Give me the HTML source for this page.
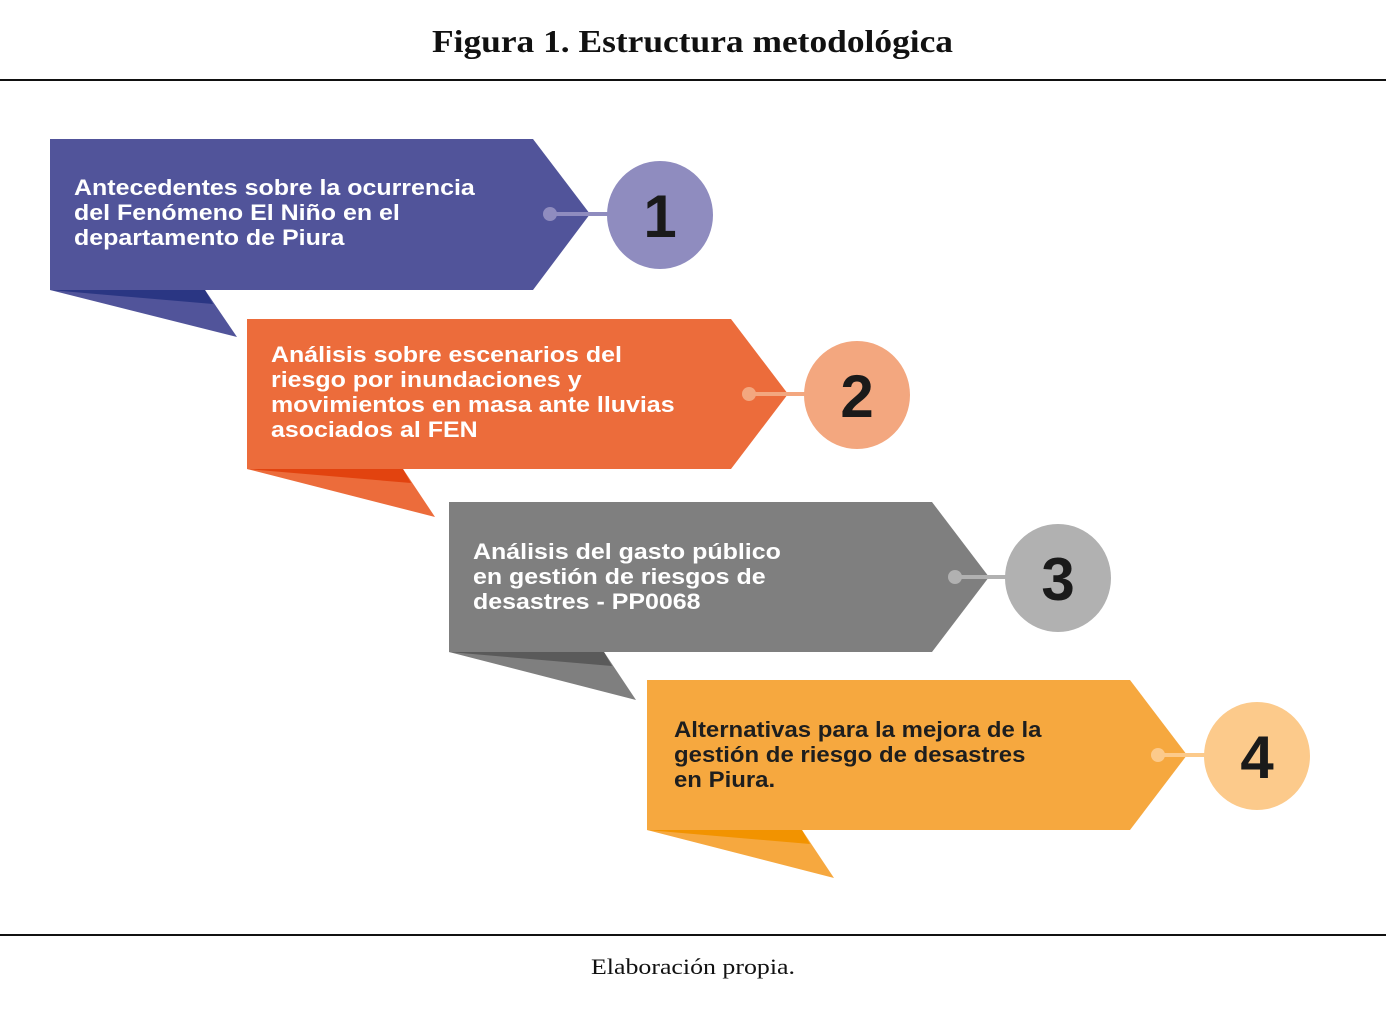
<!DOCTYPE html>
<html><head><meta charset="utf-8"><style>
html,body{margin:0;padding:0;background:#fff;width:1386px;height:1012px;overflow:hidden}
svg{display:block}
</style></head><body>
<svg width="1386" height="1012" viewBox="0 0 1386 1012" xmlns="http://www.w3.org/2000/svg">
<text x="432" y="52" textLength="521" lengthAdjust="spacingAndGlyphs" font-family="Liberation Serif, serif" font-weight="bold" font-size="32" fill="#111">Figura 1. Estructura metodológica</text>
<line x1="0" y1="80" x2="1386" y2="80" stroke="#111" stroke-width="2"/>
<line x1="0" y1="935" x2="1386" y2="935" stroke="#111" stroke-width="2"/>
<text x="591" y="974" textLength="204" lengthAdjust="spacingAndGlyphs" font-family="Liberation Serif, serif" font-size="22" fill="#111">Elaboración propia.</text>

<g font-family="Liberation Sans, sans-serif" font-weight="bold" font-size="22.5">
<polygon points="50,290 237,337 205,290" fill="#51549a"/>
<polygon points="50,290 205,290 213,304" fill="#2a3683"/>
<polygon points="50,139 533,139 590,214 533,290 50,290" fill="#51549a"/>
<line x1="550" y1="214" x2="610" y2="214" stroke="#8f8cbf" stroke-width="4"/>
<circle cx="550" cy="214" r="7" fill="#8f8cbf"/>
<ellipse cx="660" cy="215" rx="53" ry="54" fill="#8f8cbf"/>
<text x="660" y="237" text-anchor="middle" font-size="60" fill="#1a1a1a">1</text>
<g transform="translate(74,0) scale(1.11,1) translate(-74,0)">
<text fill="#fff"><tspan x="74" y="195">Antecedentes sobre la ocurrencia</tspan><tspan x="74" y="220">del Fenómeno El Niño en el</tspan><tspan x="74" y="245">departamento de Piura</tspan></text></g>

<polygon points="247,469 435,517 403,469" fill="#ec6c3b"/>
<polygon points="247,469 403,469 411,483" fill="#e2430f"/>
<polygon points="247,319 731,319 788,394 731,469 247,469" fill="#ec6c3b"/>
<line x1="749" y1="394" x2="808" y2="394" stroke="#f3a77f" stroke-width="4"/>
<circle cx="749" cy="394" r="7" fill="#f3a77f"/>
<ellipse cx="857" cy="395" rx="53" ry="54" fill="#f3a77f"/>
<text x="857" y="417" text-anchor="middle" font-size="60" fill="#1a1a1a">2</text>
<g transform="translate(271,0) scale(1.11,1) translate(-271,0)">
<text fill="#fff"><tspan x="271" y="362">Análisis sobre escenarios del</tspan><tspan x="271" y="387">riesgo por inundaciones y</tspan><tspan x="271" y="412">movimientos en masa ante lluvias</tspan><tspan x="271" y="437">asociados al FEN</tspan></text></g>

<polygon points="449,652 636,700 604,652" fill="#7f7f7f"/>
<polygon points="449,652 604,652 612,666" fill="#5a5a5a"/>
<polygon points="449,502 932,502 989,577 932,652 449,652" fill="#7f7f7f"/>
<line x1="955" y1="577" x2="1008" y2="577" stroke="#b1b1b1" stroke-width="4"/>
<circle cx="955" cy="577" r="7" fill="#b1b1b1"/>
<ellipse cx="1058" cy="578" rx="53" ry="54" fill="#b1b1b1"/>
<text x="1058" y="600" text-anchor="middle" font-size="60" fill="#1a1a1a">3</text>
<g transform="translate(473,0) scale(1.11,1) translate(-473,0)">
<text fill="#fff"><tspan x="473" y="559">Análisis del gasto público</tspan><tspan x="473" y="584">en gestión de riesgos de</tspan><tspan x="473" y="609">desastres - PP0068</tspan></text></g>

<polygon points="647,830 834,878 802,830" fill="#f6a83f"/>
<polygon points="647,830 802,830 810,844" fill="#f29300"/>
<polygon points="647,680 1130,680 1187,755 1130,830 647,830" fill="#f6a83f"/>
<line x1="1158" y1="755" x2="1208" y2="755" stroke="#fcca8b" stroke-width="4"/>
<circle cx="1158" cy="755" r="7" fill="#fcca8b"/>
<ellipse cx="1257" cy="756" rx="53" ry="54" fill="#fcca8b"/>
<text x="1257" y="778" text-anchor="middle" font-size="60" fill="#1a1a1a">4</text>
<g transform="translate(674,0) scale(1.065,1) translate(-674,0)">
<text fill="#1e1e1e"><tspan x="674" y="737">Alternativas para la mejora de la</tspan><tspan x="674" y="762">gestión de riesgo de desastres</tspan><tspan x="674" y="787">en Piura.</tspan></text></g>
</g>
</svg>
</body></html>
